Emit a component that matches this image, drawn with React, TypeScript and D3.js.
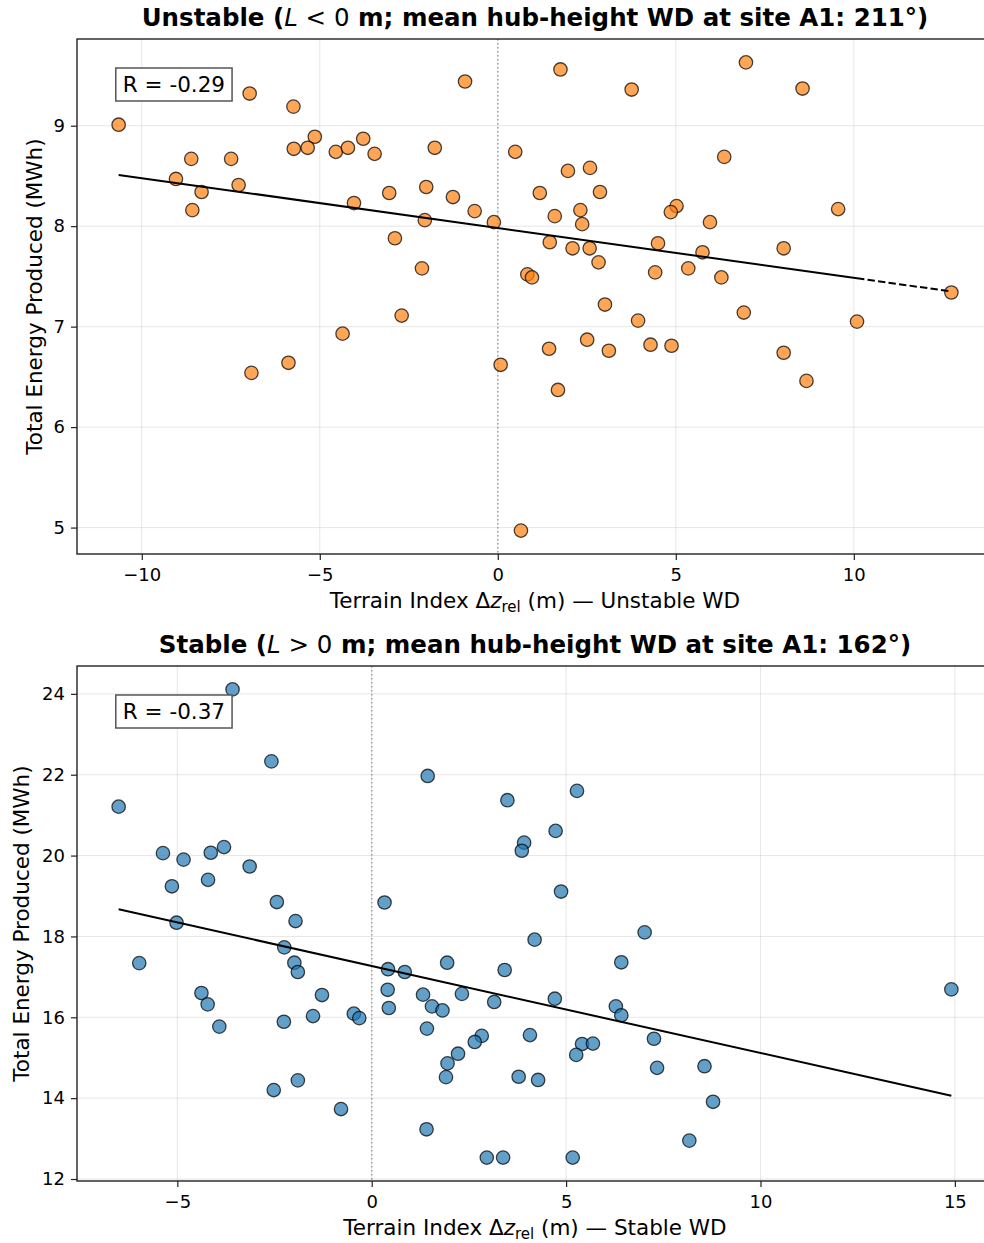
import React, { useEffect, useRef } from 'react';
import * as d3 from 'd3';

const W = 984;
const H = 1243;

// unstable (L < 0) cases: terrain index vs energy
const unstableDz = [-10.65, -6.97, -5.74, -0.92, -5.14, -5.73, -5.34, -4.55, -4.21, -3.78, -3.46, -1.77, 0.49,
  -8.61, -7.49, -9.04, -7.28, -8.32, -8.58, -3.05, -2.01, -1.26, -4.04, -0.65, -2.05, -0.11, -2.89, -2.13,
  0.83, 0.96, -6.92, -5.88, -4.36, -2.70, 0.08, 0.65, 1.76, 3.76, 6.97, 8.56, 6.36, 1.97, 2.59, 1.18, 2.87,
  9.56, 5.02, 4.86, 2.32, 1.60, 2.37, 5.96, 1.46, 2.10, 2.58, 4.50, 5.75, 8.03, 2.83, 4.42, 5.35, 6.28, 12.74,
  3.01, 6.91, 3.94, 10.09, 1.44, 2.51, 3.12, 4.29, 4.88, 8.03, 1.69, 8.67];
const unstableEnergy = [9.01, 9.32, 9.19, 9.44, 8.89, 8.77, 8.78, 8.74, 8.78, 8.87, 8.72, 8.78, 8.74,
  8.67, 8.67, 8.47, 8.41, 8.34, 8.16, 8.33, 8.39, 8.29, 8.23, 8.15, 8.06, 8.04, 7.88, 7.58,
  7.52, 7.49, 6.54, 6.64, 6.93, 7.11, 6.62, 4.97, 9.56, 9.36, 9.63, 9.37, 8.69, 8.55, 8.58, 8.33, 8.34,
  8.17, 8.20, 8.14, 8.16, 8.10, 8.02, 8.04, 7.84, 7.78, 7.78, 7.83, 7.74, 7.78, 7.64, 7.54, 7.58, 7.49, 7.34,
  7.22, 7.14, 7.06, 7.05, 6.78, 6.87, 6.76, 6.82, 6.81, 6.74, 6.37, 6.46];

// stable (L > 0) cases
const stableDz = [-3.58, -2.58, -6.51, 1.44, -5.37, -4.84, -4.14, -3.80, -3.14, -5.14, -4.21, -2.44, -1.96,
  0.33, -5.02, -5.98, -2.25, -1.99, -1.90, -4.38, -4.22, -3.92, -1.28, -2.26, -1.51, -0.46, -0.32, 0.42,
  0.85, 1.94, 0.41, 0.44, 1.32, 1.55, 1.82, 1.42, 2.32, -1.90, -2.52, -0.79, 1.41, 2.22, 1.95, 1.91,
  7.02, 4.19, 6.42, 3.42, 14.91, 4.71, 3.15, 6.28, 6.42, 2.83, 2.65, 4.07, 5.41, 5.69, 7.26, 5.26,
  3.78, 4.28, 7.34, 8.56, 8.78, 8.17, 2.96, 3.38, 5.17, 3.49, 5.28, 4.73, 3.92, 3.86, 4.87];
const stableEnergy = [24.11, 22.33, 21.21, 21.97, 20.06, 19.90, 20.07, 20.21, 19.73, 19.24, 19.40, 18.85, 18.38,
  18.84, 18.34, 17.34, 17.73, 17.35, 17.12, 16.60, 16.32, 15.77, 16.55, 15.89, 16.03, 16.09, 15.98, 17.19,
  17.12, 17.35, 16.68, 16.23, 16.56, 16.27, 16.17, 15.72, 16.58, 14.44, 14.20, 13.73, 13.23, 15.10, 14.86, 14.52,
  18.10, 17.92, 17.36, 17.17, 16.69, 16.46, 16.38, 16.27, 16.05, 15.54, 15.39, 15.56, 15.34, 15.35, 15.47, 15.07,
  14.53, 14.45, 14.75, 14.79, 13.91, 12.95, 12.53, 12.53, 12.53, 21.37, 21.60, 20.61, 20.32, 20.12, 19.11];

const unstableXTicks = [-10, -5, 0, 5, 10];
const unstableYTicks = [5, 6, 7, 8, 9];
const stableXTicks = [-5, 0, 5, 10, 15];
const stableYTicks = [12, 14, 16, 18, 20, 22, 24];

// fitted energy at min / max terrain index
const unstableFit = [8.51, 7.35];
const unstableFitSolidEnd = 10.09; // dashed beyond this
const stableFit = [18.67, 14.06];

const unstableR = -0.29;
const stableR = -0.37;

const FONT = 'DejaVu Sans, Liberation Sans, sans-serif';
const fmt = (d: number) => String(d).replace('-', '\u2212');

function drawPanel(svg: any, p: any) {
  const left = 77, right = 993;
  const pad = (e: number[]) => { const s = (e[1] - e[0]) * 0.05; return [e[0] - s, e[1] + s]; };
  const x = d3.scaleLinear().domain(pad(d3.extent(p.dz) as number[])).range([left, right]);
  const y = d3.scaleLinear().domain(pad(d3.extent(p.energy) as number[])).range([p.bottom, p.top]);
  const g = svg.append('g');

  // grid
  g.append('g').selectAll('line').data(p.xTicks).join('line')
    .attr('x1', (d: number) => x(d)).attr('x2', (d: number) => x(d))
    .attr('y1', p.top).attr('y2', p.bottom)
    .attr('stroke', '#b0b0b0').attr('stroke-opacity', 0.3).attr('stroke-width', 1);
  g.append('g').selectAll('line').data(p.yTicks).join('line')
    .attr('y1', (d: number) => y(d)).attr('y2', (d: number) => y(d))
    .attr('x1', left).attr('x2', right)
    .attr('stroke', '#b0b0b0').attr('stroke-opacity', 0.3).attr('stroke-width', 1);

  // zero line
  g.append('line')
    .attr('x1', x(0)).attr('x2', x(0)).attr('y1', p.top).attr('y2', p.bottom)
    .attr('stroke', '#808080').attr('stroke-opacity', 0.7).attr('stroke-width', 1.5)
    .attr('stroke-dasharray', '1.5,2.5');

  // points
  g.append('g').selectAll('circle').data(p.dz).join('circle')
    .attr('cx', (d: number) => x(d))
    .attr('cy', (d: number, i: number) => y(p.energy[i]))
    .attr('r', 6.7)
    .attr('fill', p.color).attr('fill-opacity', 0.7)
    .attr('stroke', '#000').attr('stroke-opacity', 0.72).attr('stroke-width', 1.3);

  // fit line
  const [x0, x1] = d3.extent(p.dz) as number[];
  const fy = (v: number) => p.fit[0] + (p.fit[1] - p.fit[0]) * (v - x0) / (x1 - x0);
  const solidEnd = p.solidEnd ?? x1;
  g.append('line')
    .attr('x1', x(x0)).attr('y1', y(fy(x0))).attr('x2', x(solidEnd)).attr('y2', y(fy(solidEnd)))
    .attr('stroke', '#000').attr('stroke-width', 2);
  if (solidEnd < x1) {
    g.append('line')
      .attr('x1', x(solidEnd)).attr('y1', y(fy(solidEnd))).attr('x2', x(x1)).attr('y2', y(fy(x1)))
      .attr('stroke', '#000').attr('stroke-width', 2).attr('stroke-dasharray', '7.4,3.2');
  }

  // spines
  g.append('rect')
    .attr('x', left).attr('y', p.top).attr('width', right - left).attr('height', p.bottom - p.top)
    .attr('fill', 'none').attr('stroke', '#222').attr('stroke-width', 1.4);

  // axes
  const xa = g.append('g').attr('transform', `translate(0,${p.bottom})`)
    .call(d3.axisBottom(x).tickValues(p.xTicks).tickSize(6).tickPadding(8).tickFormat(fmt as any));
  const ya = g.append('g').attr('transform', `translate(${left},0)`)
    .call(d3.axisLeft(y).tickValues(p.yTicks).tickSize(6).tickPadding(6).tickFormat(fmt as any));
  [xa, ya].forEach((a: any) => {
    a.select('.domain').remove();
    a.attr('font-family', FONT).attr('font-size', 18);
    a.selectAll('text').attr('fill', '#000');
    a.selectAll('line').attr('stroke', '#222').attr('stroke-width', 1.2);
  });

  // title
  const t = svg.append('text').attr('x', (left + right) / 2).attr('y', p.top - 13)
    .attr('text-anchor', 'middle').attr('font-family', FONT).attr('font-size', 24.5)
    .attr('font-weight', 'bold').style('white-space', 'pre');
  t.append('tspan').text(p.title[0] + ' (');
  t.append('tspan').attr('font-style', 'italic').attr('font-weight', 'normal').text('L');
  t.append('tspan').attr('font-weight', 'normal').text(` ${p.title[1]} 0`);
  t.append('tspan').text(` m; mean hub-height WD at site A1: ${p.title[2]}°)`);

  // x label
  const xl = svg.append('text').attr('x', (left + right) / 2).attr('y', p.bottom + 54)
    .attr('text-anchor', 'middle').attr('font-family', FONT).attr('font-size', 21.5)
    .style('white-space', 'pre');
  xl.append('tspan').text('Terrain Index \u0394');
  xl.append('tspan').attr('font-style', 'italic').text('z');
  xl.append('tspan').attr('font-size', 15).attr('dy', 4).text('rel');
  xl.append('tspan').attr('dy', -4).text(` (m) \u2014 ${p.title[0]} WD`);

  // y label
  svg.append('text')
    .attr('transform', `translate(${p.yLabelX},${(p.top + p.bottom) / 2}) rotate(-90)`)
    .attr('text-anchor', 'middle').attr('font-family', FONT).attr('font-size', 21.5)
    .text('Total Energy Produced (MWh)');

  // R box
  const rt = svg.append('text').attr('x', left + 0.05 * (right - left)).attr('y', p.top + 53)
    .attr('font-family', FONT).attr('font-size', 21.5).text(`R = ${p.r.toFixed(2)}`);
  const bb = rt.node().getBBox();
  svg.insert('rect', () => rt.node())
    .attr('x', bb.x - 7).attr('y', bb.y - 4).attr('width', bb.width + 14).attr('height', bb.height + 8)
    .attr('fill', '#fff').attr('stroke', '#555').attr('stroke-width', 1.5);
}

function App() {
  const svgRef = useRef<SVGSVGElement>(null);

  useEffect(() => {
    const svg = d3.select(svgRef.current);
    svg.selectAll('*').remove();
    svg.append('rect').attr('width', W).attr('height', H).attr('fill', '#fff');

    drawPanel(svg, {
      dz: unstableDz, energy: unstableEnergy, xTicks: unstableXTicks, yTicks: unstableYTicks,
      fit: unstableFit, solidEnd: unstableFitSolidEnd, r: unstableR, color: '#ff7f0e',
      title: ['Unstable', '<', '211'], top: 39, bottom: 554, yLabelX: 42,
    });
    drawPanel(svg, {
      dz: stableDz, energy: stableEnergy, xTicks: stableXTicks, yTicks: stableYTicks,
      fit: stableFit, r: stableR, color: '#1f77b4',
      title: ['Stable', '>', '162'], top: 666, bottom: 1181, yLabelX: 29,
    });
  }, []);

  return (
    <svg ref={svgRef} width={W} height={H}
      style={{ position: 'absolute', left: 0, top: 0, display: 'block' }}></svg>
  );
}

export default App;
